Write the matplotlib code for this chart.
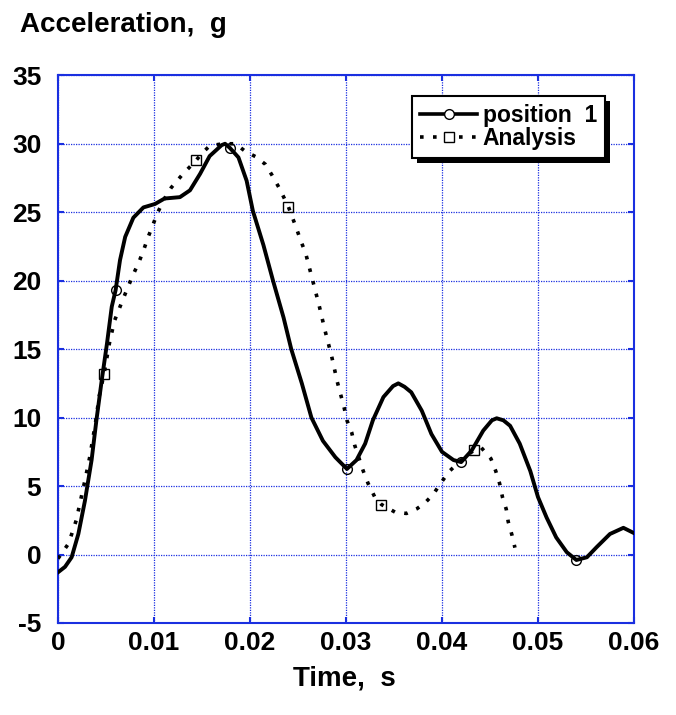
import matplotlib
matplotlib.use("Agg")
import matplotlib.pyplot as plt
from matplotlib.lines import Line2D
from matplotlib.patches import Rectangle
from matplotlib.transforms import IdentityTransform

plt.rcParams['font.family'] = ['Liberation Sans', 'DejaVu Sans']
plt.rcParams['font.weight'] = 'bold'
plt.rcParams['axes.unicode_minus'] = False

# position 1 (solid line)
pos_t = [0.0, 0.00073, 0.00142, 0.00212, 0.0028, 0.0035, 0.0040, 0.00455, 0.0051, 0.0056,
         0.0060, 0.00646, 0.0070, 0.00785, 0.0089, 0.0101, 0.0111, 0.0127, 0.01375, 0.0148,
         0.0158, 0.01705, 0.0174, 0.0179, 0.0188, 0.01965, 0.0203, 0.0214, 0.0224, 0.0235,
         0.0243, 0.0254, 0.0264, 0.0276, 0.0289, 0.0301, 0.0311, 0.0320, 0.0328, 0.0339,
         0.0349, 0.03545, 0.0361, 0.0368, 0.0379, 0.0389, 0.0400, 0.0412, 0.0420, 0.0431,
         0.0443, 0.0452, 0.0457, 0.0464, 0.0471, 0.0481, 0.0492, 0.0500, 0.0509, 0.0519,
         0.0530, 0.0540, 0.0551, 0.0561, 0.0575, 0.0589, 0.0599]
pos_g = [-1.3, -0.9, -0.2, 1.5, 3.9, 6.9, 9.8, 12.7, 15.4, 18.1,
         19.3, 21.5, 23.2, 24.6, 25.35, 25.6, 26.0, 26.1, 26.6, 27.8,
         29.1, 29.9, 30.0, 29.7, 29.0, 27.3, 25.1, 22.6, 20.0, 17.3,
         15.0, 12.5, 10.0, 8.3, 7.1, 6.25, 6.9, 8.1, 9.8, 11.5,
         12.3, 12.5, 12.25, 11.85, 10.5, 8.8, 7.5, 6.9, 6.75, 7.6,
         9.05, 9.8, 9.95, 9.8, 9.4, 8.1, 6.1, 4.2, 2.7, 1.25,
         0.17, -0.4, -0.2, 0.53, 1.5, 1.95, 1.6]
pos_mark_t = [0.0060, 0.0179, 0.0301, 0.0420, 0.0540]
pos_mark_g = [19.3, 29.7, 6.25, 6.75, -0.4]

# Analysis (dotted line)
ana_t = [0.0, 0.0011, 0.0019, 0.0028, 0.0033, 0.0039, 0.0043, 0.0048, 0.0054, 0.0059,
         0.0068, 0.0078, 0.0084, 0.0089, 0.0094, 0.0099, 0.0104, 0.0111, 0.0118, 0.0129,
         0.0144, 0.0150, 0.0158, 0.0172, 0.0185, 0.0195, 0.0206, 0.0216, 0.0223, 0.0231,
         0.0240, 0.0248, 0.0253, 0.0258, 0.0265, 0.0272, 0.0278, 0.0285, 0.0291, 0.0298,
         0.0301, 0.0306, 0.0309, 0.0318, 0.0323, 0.0330, 0.0337, 0.0351, 0.0363, 0.0374,
         0.0382, 0.0391, 0.0398, 0.0408, 0.0420, 0.0433, 0.0441, 0.0451, 0.0456, 0.0460,
         0.0463, 0.0467, 0.0469, 0.0473, 0.0476]
ana_g = [-0.3, 0.8, 2.5, 5.4, 7.1, 9.6, 11.6, 13.2, 15.6, 17.1,
         18.7, 20.4, 21.3, 22.2, 23.2, 24.1, 25.0, 26.0, 26.8, 27.7,
         28.8, 29.3, 29.85, 30.0, 30.0, 29.45, 29.05, 28.5, 27.7, 26.7,
         25.4, 23.9, 22.9, 22.0, 20.1, 18.2, 16.4, 14.5, 12.6, 10.75,
         9.8, 8.9, 8.0, 6.1, 5.2, 4.2, 3.65, 3.1, 3.0, 3.35,
         3.75, 4.4, 5.15, 6.1, 6.9, 7.6, 7.8, 7.0, 6.1, 5.2,
         4.2, 3.3, 2.4, 1.4, 0.5]
ana_mark_t = [0.0048, 0.0144, 0.0240, 0.0337, 0.0433]
ana_mark_g = [13.2, 28.8, 25.4, 3.65, 7.6]

x_ticks = [0, 0.01, 0.02, 0.03, 0.04, 0.05, 0.06]
x_labels = ['0', '0.01', '0.02', '0.03', '0.04', '0.05', '0.06']
y_ticks = [-5, 0, 5, 10, 15, 20, 25, 30, 35]

blue = '#1a2fe0'
dot = (0, (1, 2.6))

fig = plt.figure(figsize=(6.76, 7.15), dpi=100)
ax = fig.add_axes([0.0858, 0.1287, 0.852, 0.766])

ax.plot(pos_t, pos_g, color='black', lw=2.8, zorder=3, solid_joinstyle='round')
ax.plot(pos_mark_t, pos_mark_g, 'o', ms=7, mfc='none', mec='black', mew=1.0, zorder=4)
ax.plot(ana_t, ana_g, color='black', lw=2.6, linestyle=dot, zorder=3)
ax.plot(ana_mark_t, ana_mark_g, 's', ms=7.5, mfc='none', mec='black', mew=1.0, zorder=4)

ax.set_xlim(0, 0.06)
ax.set_ylim(-5, 35)
ax.set_xticks(x_ticks)
ax.set_xticklabels(x_labels)
ax.set_yticks(y_ticks)
ax.grid(True, color=blue, linestyle=(0, (1, 1)), lw=0.9)
for s in ax.spines.values():
    s.set_color(blue)
    s.set_linewidth(1.5)
ax.tick_params(axis='both', direction='in', color=blue, length=4, width=1.5,
               top=True, right=True, labelsize=19)
ax.tick_params(axis='x', pad=6)
ax.tick_params(axis='y', pad=12)
for lab in ax.get_xticklabels() + ax.get_yticklabels():
    lab.set_fontweight('bold')

fig.text(0.03, 0.955, 'Acceleration,  g', fontsize=20, fontweight='bold', ha='left', va='baseline')
fig.text(0.51, 0.041, 'Time,  s', fontsize=20, fontweight='bold', ha='center', va='baseline')

handles = [
    Line2D([], [], color='black', lw=2.6, marker='o', ms=7, mfc='white', mec='black', mew=1.0),
    Line2D([], [], color='black', lw=2.6, linestyle=dot, marker='s', ms=7.5, mfc='white', mec='black', mew=1.0),
]
leg = ax.legend(handles, ['position  1', 'Analysis'], loc='upper right',
                bbox_to_anchor=(0.95, 0.9617), borderaxespad=0, numpoints=1,
                handlelength=2.5, handletextpad=0.25, borderpad=0.35, labelspacing=0.0,
                fancybox=False, framealpha=1, edgecolor='black',
                prop={'size': 16.5, 'weight': 'bold'})
leg.get_frame().set_linewidth(1.5)
leg.set_zorder(6)

# drop shadow under the legend box
fig.canvas.draw()
bb = leg.get_frame().get_window_extent()
ax.add_patch(Rectangle((bb.x0 + 5, bb.y0 - 5), bb.width, bb.height, transform=IdentityTransform(),
                       facecolor='black', edgecolor='none', zorder=5.5, clip_on=False))

fig.savefig('out.png', dpi=100)
